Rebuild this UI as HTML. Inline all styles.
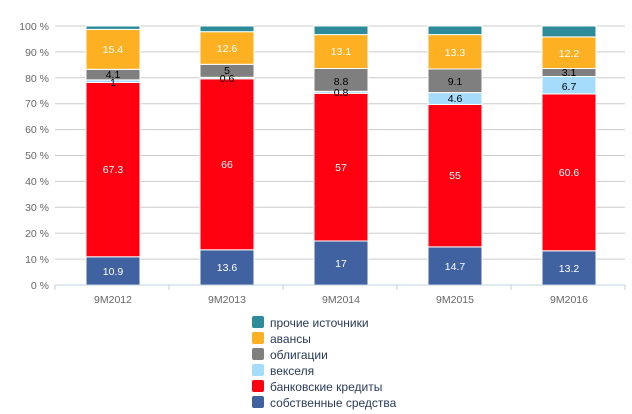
<!DOCTYPE html><html><head><style>body{margin:0;background:#fff}svg{display:block;font-family:"Liberation Sans",sans-serif}</style></head><body>
<svg width="632" height="414" viewBox="0 0 632 414">
<g stroke="#ccc" stroke-width="1">
<line x1="55" x2="625" y1="259.1" y2="259.1"/><line x1="55" x2="625" y1="233.2" y2="233.2"/><line x1="55" x2="625" y1="207.3" y2="207.3"/><line x1="55" x2="625" y1="181.4" y2="181.4"/><line x1="55" x2="625" y1="155.5" y2="155.5"/><line x1="55" x2="625" y1="129.6" y2="129.6"/><line x1="55" x2="625" y1="103.7" y2="103.7"/><line x1="55" x2="625" y1="77.8" y2="77.8"/><line x1="55" x2="625" y1="51.9" y2="51.9"/><line x1="55" x2="625" y1="26" y2="26"/>
</g>
<g font-size="10.5" fill="#666" text-anchor="end">
<text x="49" y="289">0 %</text><text x="49" y="263">10 %</text><text x="49" y="237">20 %</text><text x="49" y="211">30 %</text><text x="49" y="185">40 %</text><text x="49" y="159">50 %</text><text x="49" y="133">60 %</text><text x="49" y="107">70 %</text><text x="49" y="82">80 %</text><text x="49" y="56">90 %</text><text x="49" y="30">100 %</text>
</g>
<g stroke="#fff" stroke-width="1">
<rect x="86" y="256.8" width="54" height="28.2" fill="#4062a0"/><rect x="86" y="82.5" width="54" height="174.3" fill="#ff0010"/><rect x="86" y="79.9" width="54" height="2.6" fill="#a6dcfb"/><rect x="86" y="69.3" width="54" height="10.6" fill="#7f7f7f"/><rect x="86" y="29.4" width="54" height="39.9" fill="#fdb022"/><rect x="86" y="26" width="54" height="3.4" fill="#2e8b9a"/>
<rect x="200" y="249.8" width="54" height="35.2" fill="#4062a0"/><rect x="200" y="78.8" width="54" height="171" fill="#ff0010"/><rect x="200" y="77.3" width="54" height="1.5" fill="#a6dcfb"/><rect x="200" y="64.3" width="54" height="13" fill="#7f7f7f"/><rect x="200" y="31.7" width="54" height="32.6" fill="#fdb022"/><rect x="200" y="26" width="54" height="5.7" fill="#2e8b9a"/>
<rect x="314" y="241" width="54" height="44" fill="#4062a0"/><rect x="314" y="93.3" width="54" height="147.7" fill="#ff0010"/><rect x="314" y="91.3" width="54" height="2" fill="#a6dcfb"/><rect x="314" y="68.5" width="54" height="22.8" fill="#7f7f7f"/><rect x="314" y="34.6" width="54" height="33.9" fill="#fdb022"/><rect x="314" y="26" width="54" height="8.6" fill="#2e8b9a"/>
<rect x="428" y="246.9" width="54" height="38.1" fill="#4062a0"/><rect x="428" y="104.5" width="54" height="142.4" fill="#ff0010"/><rect x="428" y="92.6" width="54" height="11.9" fill="#a6dcfb"/><rect x="428" y="69" width="54" height="23.6" fill="#7f7f7f"/><rect x="428" y="34.6" width="54" height="34.4" fill="#fdb022"/><rect x="428" y="26" width="54" height="8.6" fill="#2e8b9a"/>
<rect x="542" y="250.8" width="54" height="34.2" fill="#4062a0"/><rect x="542" y="93.9" width="54" height="156.9" fill="#ff0010"/><rect x="542" y="76.5" width="54" height="17.4" fill="#a6dcfb"/><rect x="542" y="68.5" width="54" height="8" fill="#7f7f7f"/><rect x="542" y="36.9" width="54" height="31.6" fill="#fdb022"/><rect x="542" y="26" width="54" height="10.9" fill="#2e8b9a"/>
</g>
<line x1="55" x2="625" y1="285" y2="285" stroke="#c0d0e0"/>
<g stroke="#c0d0e0"><line x1="55" x2="55" y1="285" y2="290"/><line x1="169" x2="169" y1="285" y2="290"/><line x1="283" x2="283" y1="285" y2="290"/><line x1="397" x2="397" y1="285" y2="290"/><line x1="511" x2="511" y1="285" y2="290"/><line x1="625" x2="625" y1="285" y2="290"/></g>
<g font-size="10.5" text-anchor="middle">
<g fill="#fff">
<text x="113" y="275">10.9</text><text x="113" y="173">67.3</text><text x="113" y="53">15.4</text>
<text x="227" y="271">13.6</text><text x="227" y="168">66</text><text x="227" y="52">12.6</text>
<text x="341" y="267">17</text><text x="341" y="171">57</text><text x="341" y="55">13.1</text>
<text x="455" y="270">14.7</text><text x="455" y="179">55</text><text x="455" y="56">13.3</text>
<text x="569" y="272">13.2</text><text x="569" y="176">60.6</text><text x="569" y="57">12.2</text>
</g>
<g fill="#000">
<text x="113" y="78">4.1</text><text x="113" y="86">1</text>
<text x="227" y="74">5</text><text x="227" y="82">0.6</text>
<text x="341" y="85">8.8</text><text x="341" y="96">0.8</text>
<text x="455" y="85">9.1</text><text x="455" y="102">4.6</text>
<text x="569" y="76">3.1</text><text x="569" y="90">6.7</text>
</g>
<g fill="#666"><text x="113" y="303">9M2012</text><text x="227" y="303">9M2013</text><text x="341" y="303">9M2014</text><text x="455" y="303">9M2015</text><text x="569" y="303">9M2016</text></g>
</g>
<g font-size="12" fill="#2a3a5a">
<rect x="252" y="316" width="12" height="12" rx="2" fill="#2e8b9a"/><text x="270" y="327">прочие источники</text>
<rect x="252" y="332" width="12" height="12" rx="2" fill="#fdb022"/><text x="270" y="343">авансы</text>
<rect x="252" y="348" width="12" height="12" rx="2" fill="#7f7f7f"/><text x="270" y="359">облигации</text>
<rect x="252" y="364" width="12" height="12" rx="2" fill="#a6dcfb"/><text x="270" y="375">векселя</text>
<rect x="252" y="380" width="12" height="12" rx="2" fill="#ff0010"/><text x="270" y="391">банковские кредиты</text>
<rect x="252" y="396" width="12" height="12" rx="2" fill="#4062a0"/><text x="270" y="407">собственные средства</text>
</g>
</svg></body></html>
